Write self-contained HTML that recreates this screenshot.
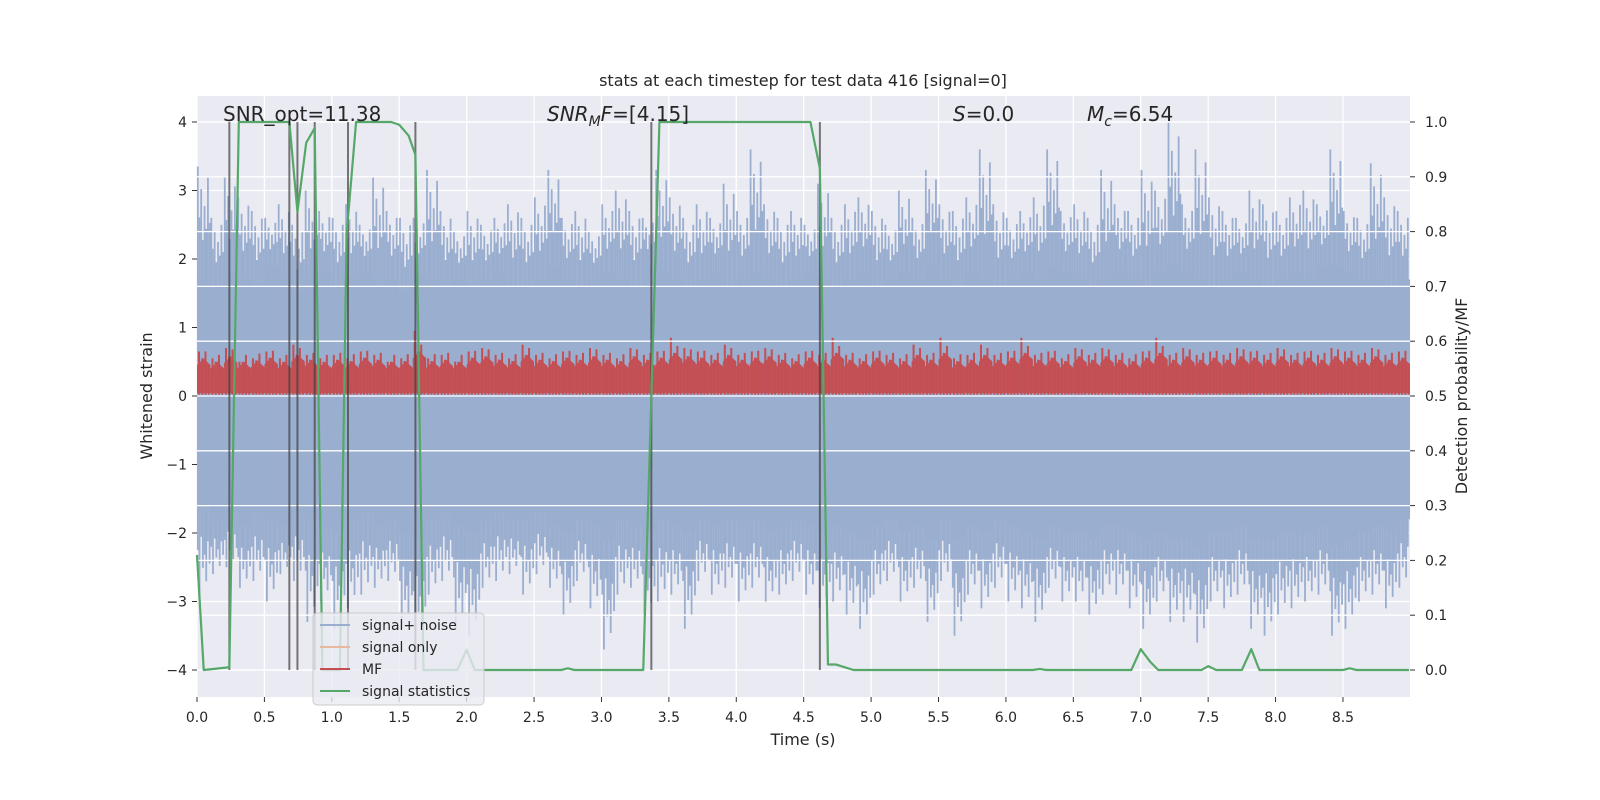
<!DOCTYPE html>
<html><head><meta charset="utf-8"><style>
html,body{margin:0;padding:0;background:#fff;overflow:hidden;width:100vw;height:100vh}
svg{display:block;width:100vw;height:100vh}
svg text{font-family:"DejaVu Sans","Liberation Sans",sans-serif;fill:#262626}
</style></head><body>
<svg id="chart" viewBox="0 0 1600 800" preserveAspectRatio="none" xmlns="http://www.w3.org/2000/svg">
<rect x="0" y="0" width="1600" height="800" fill="#fff"/>
<rect x="197" y="96" width="1213" height="601" fill="#eaeaf2"/>
<g id="gridL"></g><g id="noise"></g><g id="mf"></g><g id="gridR"></g><g id="vlines"></g><g id="stat"></g><g id="axes"></g>
<text x="803" y="86" text-anchor="middle" font-size="16">stats at each timestep for test data 416 [signal=0]</text>
<text x="223" y="121" font-size="20">SNR_opt=11.38</text>
<text x="547" y="121" font-size="20"><tspan font-style="italic">SNR</tspan><tspan font-style="italic" font-size="14" dy="5">M</tspan><tspan font-style="italic" dy="-5">F</tspan>=[4.15]</text>
<text x="953" y="121" font-size="20"><tspan font-style="italic">S</tspan>=0.0</text>
<text x="1087" y="121" font-size="20"><tspan font-style="italic">M</tspan><tspan font-style="italic" font-size="14" dy="5">c</tspan><tspan dy="-5">=6.54</tspan></text>
<text x="803" y="745" text-anchor="middle" font-size="16">Time (s)</text>
<text transform="translate(152,396) rotate(-90)" text-anchor="middle" font-size="16">Whitened strain</text>
<text transform="translate(1467,396) rotate(-90)" text-anchor="middle" font-size="16">Detection probability/MF</text>
<g>
<rect x="313" y="613" width="171" height="92" rx="4" fill="#eaeaf2" fill-opacity="0.8" stroke="#cccccc"/>
<line x1="320" y1="625" x2="350" y2="625" stroke="#9aaed0" stroke-width="2"/>
<text x="362" y="630" font-size="14">signal+ noise</text>
<line x1="320" y1="647" x2="350" y2="647" stroke="#e8b7a0" stroke-width="2"/>
<text x="362" y="652" font-size="14">signal only</text>
<line x1="320" y1="669" x2="350" y2="669" stroke="#c44e52" stroke-width="2"/>
<text x="362" y="674" font-size="14">MF</text>
<line x1="320" y1="691" x2="350" y2="691" stroke="#55a868" stroke-width="2"/>
<text x="362" y="696" font-size="14">signal statistics</text>
</g>
</svg>
<script>
const xTicks=[0,0.5,1,1.5,2,2.5,3,3.5,4,4.5,5,5.5,6,6.5,7,7.5,8,8.5];
const xTickLabels=["0.0","0.5","1.0","1.5","2.0","2.5","3.0","3.5","4.0","4.5","5.0","5.5","6.0","6.5","7.0","7.5","8.0","8.5"];
const yTicksL=[-4,-3,-2,-1,0,1,2,3,4];
const yTickLabelsL=["\u22124","\u22123","\u22122","\u22121","0","1","2","3","4"];
const yTicksR=[0,0.1,0.2,0.3,0.4,0.5,0.6,0.7,0.8,0.9,1.0];
const yTickLabelsR=["0.0","0.1","0.2","0.3","0.4","0.5","0.6","0.7","0.8","0.9","1.0"];
// noise envelopes per 0.1 s bin
const noisePeakUp=[3.35,2.6,3.2,2.9,2.7,2.6,2.8,2.5,3.0,2.7,2.6,2.8,2.5,3.2,2.7,2.6,2.6,3.3,2.7,2.4,2.7,2.5,2.6,2.8,2.6,2.9,3.3,2.6,2.7,2.4,2.8,3.0,2.7,2.6,3.3,2.9,2.6,2.8,2.6,3.1,2.7,3.6,2.8,2.6,2.7,2.5,3.1,2.6,2.8,2.9,2.7,2.5,3.0,2.6,3.3,2.8,2.7,2.9,3.6,2.8,2.6,2.7,2.9,3.6,2.7,2.8,2.6,3.3,2.8,2.7,3.3,3.0,4.0,2.8,3.6,2.9,2.7,2.6,3.0,2.8,2.7,2.9,3.0,2.8,3.6,2.7,2.6,3.4,2.9,2.7];
const noiseDenseUp=[1.7,1.6,1.8,1.7,1.6,1.9,1.7,1.5,1.7,1.8,1.6,1.7,1.8,1.6,1.7,1.5,1.8,1.7,1.6,1.7,1.6,1.7,1.8,1.6,1.6,1.7,1.9,1.7,1.6,1.7,1.8,1.7,1.6,1.9,1.8,1.7,1.6,1.7,1.8,1.6,1.7,1.8,1.7,1.6,1.7,1.8,1.7,1.6,1.7,1.8,1.6,1.7,1.8,1.7,1.9,1.7,1.6,1.8,1.7,1.6,1.7,1.8,1.7,1.9,1.8,1.7,1.6,1.7,1.8,1.7,1.6,1.8,1.9,1.8,1.7,1.6,1.7,1.8,1.7,1.6,1.7,1.8,1.7,1.9,1.9,1.8,1.7,1.7,1.6,1.7];
const noisePeakDown=[-2.9,-2.6,-2.5,-2.8,-2.7,-3.0,-2.6,-2.7,-3.3,-3.0,-3.4,-3.1,-2.9,-2.8,-2.7,-3.4,-3.6,-2.9,-2.7,-3.4,-3.5,-2.8,-2.7,-2.6,-2.9,-2.6,-2.8,-3.2,-2.7,-3.1,-3.7,-2.9,-2.8,-3.2,-3.0,-2.9,-3.4,-2.7,-2.9,-2.8,-3.0,-2.8,-3.0,-2.9,-2.7,-2.9,-3.1,-3.0,-3.2,-3.4,-2.9,-2.7,-3.0,-2.8,-3.3,-2.7,-3.5,-2.9,-3.1,-2.8,-3.0,-3.1,-3.3,-2.8,-3.0,-3.0,-3.2,-2.9,-2.9,-3.1,-3.4,-3.0,-3.3,-3.3,-3.6,-3.0,-3.1,-2.9,-3.4,-3.5,-3.2,-3.1,-3.0,-2.9,-3.5,-3.4,-3.0,-2.9,-3.1,-2.8];
const noiseDenseDown=[-1.6,-1.8,-1.7,-1.9,-1.7,-1.8,-1.9,-1.7,-1.8,-1.9,-2.0,-1.8,-1.7,-1.9,-1.8,-2.0,-2.1,-1.8,-1.7,-1.9,-2.0,-1.8,-1.7,-1.8,-1.8,-1.7,-1.9,-2.0,-1.8,-1.9,-2.1,-1.8,-1.9,-2.0,-1.8,-1.9,-2.0,-1.8,-1.9,-1.8,-1.9,-1.8,-2.0,-1.9,-1.8,-1.9,-2.0,-1.9,-2.0,-2.1,-1.9,-1.8,-2.0,-1.9,-2.1,-1.8,-2.1,-1.9,-2.0,-1.8,-1.9,-2.0,-2.1,-1.9,-2.0,-2.0,-2.1,-1.9,-1.9,-2.0,-2.1,-2.0,-2.1,-2.1,-2.2,-2.0,-2.0,-1.9,-2.1,-2.1,-2.0,-2.0,-2.0,-1.9,-2.2,-2.1,-2.0,-1.9,-2.0,-1.8];
// MF upper envelope per 0.1 s bin (strain units)
const mfHi=[0.65,0.55,0.7,0.5,0.55,0.65,0.55,0.75,0.6,0.55,0.6,0.55,0.65,0.6,0.5,0.55,0.95,0.55,0.6,0.5,0.65,0.7,0.6,0.55,0.75,0.6,0.55,0.65,0.6,0.7,0.6,0.55,0.7,0.6,0.65,0.85,0.7,0.65,0.6,0.75,0.6,0.65,0.7,0.6,0.55,0.65,0.6,0.85,0.6,0.55,0.65,0.6,0.55,0.75,0.6,0.85,0.55,0.6,0.75,0.6,0.65,0.85,0.6,0.65,0.55,0.7,0.6,0.7,0.6,0.55,0.65,0.85,0.6,0.7,0.6,0.65,0.6,0.7,0.65,0.6,0.7,0.6,0.65,0.6,0.7,0.65,0.6,0.7,0.6,0.65];
const mfMid=[0.35,0.3,0.38,0.3,0.32,0.36,0.3,0.4,0.33,0.3,0.33,0.31,0.36,0.33,0.3,0.31,0.45,0.31,0.33,0.3,0.36,0.38,0.33,0.31,0.4,0.33,0.31,0.36,0.33,0.38,0.33,0.31,0.38,0.33,0.36,0.43,0.38,0.36,0.33,0.4,0.33,0.36,0.38,0.33,0.31,0.36,0.33,0.43,0.33,0.31,0.36,0.33,0.31,0.4,0.33,0.43,0.31,0.33,0.4,0.33,0.36,0.43,0.33,0.36,0.31,0.38,0.33,0.38,0.33,0.31,0.36,0.43,0.33,0.38,0.33,0.36,0.33,0.38,0.36,0.33,0.38,0.33,0.36,0.33,0.38,0.36,0.33,0.38,0.33,0.36];
// signal statistics
const statT=[0,0.05,0.24,0.31,0.685,0.745,0.81,0.873,0.93,1.06,1.11,1.18,1.44,1.50,1.57,1.62,1.68,1.75,1.93,2.0,2.06,2.7,2.75,2.8,3.31,3.43,4.55,4.62,4.68,4.74,4.87,6.2,6.25,6.3,6.93,7.0,7.07,7.13,7.45,7.5,7.56,7.75,7.82,7.88,8.5,8.55,8.6,8.99];
const statP=[0.21,0,0.005,1,1,0.836,0.962,0.989,0,0,0.796,1,1,0.995,0.975,0.94,0,0,0,0.037,0,0,0.003,0,0,1,1,0.915,0.01,0.01,0,0,0.002,0,0,0.038,0.015,0,0,0.007,0,0,0.038,0,0,0.003,0,0];
const detT=[0.24,0.685,0.745,0.873,1.12,1.62,3.37,4.62];

const NS='http://www.w3.org/2000/svg';
const X0=197,X1=1410,YT=96,YB=697;
const xs=t=>197+t*134.82;
const yL=v=>396-v*68.5;
const yR=p=>670-p*548;
function mk(tag,attrs,parent){const e=document.createElementNS(NS,tag);for(const k in attrs)e.setAttribute(k,attrs[k]);document.getElementById(parent).appendChild(e);return e;}

xTicks.forEach((t,i)=>{
  const g=mk('line',{x1:xs(t),x2:xs(t),y1:YT,y2:YB,stroke:'#fff','stroke-width':1.3},'gridL');
  
  
  const tk=mk('line',{x1:xs(t),x2:xs(t),y1:YB,y2:YB+5,stroke:'#333','stroke-width':1},'axes');
  
  
  const tx=mk('text',{x:xs(t),y:YB+25,'text-anchor':'middle','font-size':14},'axes');
  tx.textContent=xTickLabels[i];
  
  
});
yTicksL.forEach((v,i)=>{
  const g=mk('line',{x1:X0,x2:X1,y1:yL(v),y2:yL(v),stroke:'#fff','stroke-width':1.3},'gridL');
  
  
  const tk=mk('line',{x1:X0-5,x2:X0,y1:yL(v),y2:yL(v),stroke:'#333','stroke-width':1},'axes');
  
  
  const tx=mk('text',{x:X0-10,y:yL(v)+5,'text-anchor':'end','font-size':14},'axes');
  tx.textContent=yTickLabelsL[i];
  
  
});
yTicksR.forEach((p,i)=>{
  const g=mk('line',{x1:X0,x2:X1,y1:yR(p),y2:yR(p),stroke:'#fff','stroke-width':1.3},'gridR');
  
  
  const tk=mk('line',{x1:X1,x2:X1+5,y1:yR(p),y2:yR(p),stroke:'#333','stroke-width':1},'axes');
  
  
  const tx=mk('text',{x:X1+15,y:yR(p)+5,'font-size':14},'axes');
  tx.textContent=yTickLabelsR[i];
  
  
});

// noise: dense band polygon + spikes
const nb=noiseDenseUp.length;
let up=[],dn=[];
for(let i=0;i<nb;i++){
  const xa=xs(i*0.1),xb=Math.min(xs((i+1)*0.1),X1);
  up.push(xa+','+yL(noiseDenseUp[i]),xb+','+yL(noiseDenseUp[i]));
  dn.unshift(xb+','+yL(noiseDenseDown[i]),xa+','+yL(noiseDenseDown[i]));
}
const band=mk('polygon',{points:up.concat(dn).join(' '),fill:'#9aaed0'},'noise');


const fu=[1,0.55,0.8,0.35,0.65,0.45,0.9,0.5];
const fd=[0.5,1,0.35,0.7,0.55,0.85,0.4,0.65];
for(let i=0;i<nb;i++){
  for(let k=0;k<8;k++){
    const t=i*0.1+0.006+k*0.0125;
    if(t>8.99)continue;
    const vu=noiseDenseUp[i]+(noisePeakUp[i]-noiseDenseUp[i])*fu[k];
    const vd=noiseDenseDown[i]+(noisePeakDown[i]-noiseDenseDown[i])*fd[k];
    const s=mk('line',{x1:xs(t),x2:xs(t),y1:yL(vu),y2:yL(vd),stroke:'#9aaed0','stroke-width':1.8},'noise');
    
    
  }
}
// MF
let mu=[],md=[];
for(let i=0;i<mfHi.length;i++){
  const xa=xs(i*0.1),xb=Math.min(xs((i+1)*0.1),X1);
  mu.push(xa+','+yL(mfMid[i]+0.1),(xa+xb)/2+','+yL(mfMid[i]+0.2),xb+','+yL(mfMid[i]+0.1));
  md.unshift(xb+','+yL(0.04),xa+','+yL(0.04));
}
const mfp=mk('polygon',{points:mu.concat(md).join(' '),fill:'#c44e52','fill-opacity':0.95},'mf');


for(let i=0;i<mfHi.length;i++){
  for(let k=0;k<4;k++){
    const t=i*0.1+0.015+k*0.024;
    const v=[mfHi[i],mfMid[i]+0.2,mfMid[i]+0.3,mfMid[i]+0.12][k];
    const s=mk('line',{x1:xs(t),x2:xs(t),y1:yL(v),y2:yL(0.02),stroke:'#c44e52','stroke-width':2},'mf');
    
    
  }
}
// detection vertical lines
detT.forEach(t=>{
  const l=mk('line',{x1:xs(t),x2:xs(t),y1:yR(1),y2:yR(0),stroke:'#404040','stroke-opacity':0.7,'stroke-width':2},'vlines');
  
  
});
// statistics line
const pts=statT.map((t,i)=>xs(t)+','+yR(statP[i])).join(' ');
const sl=mk('polyline',{points:pts,fill:'none',stroke:'#55a868','stroke-width':2.2,'stroke-linejoin':'round'},'stat');


</script>
</body></html>
